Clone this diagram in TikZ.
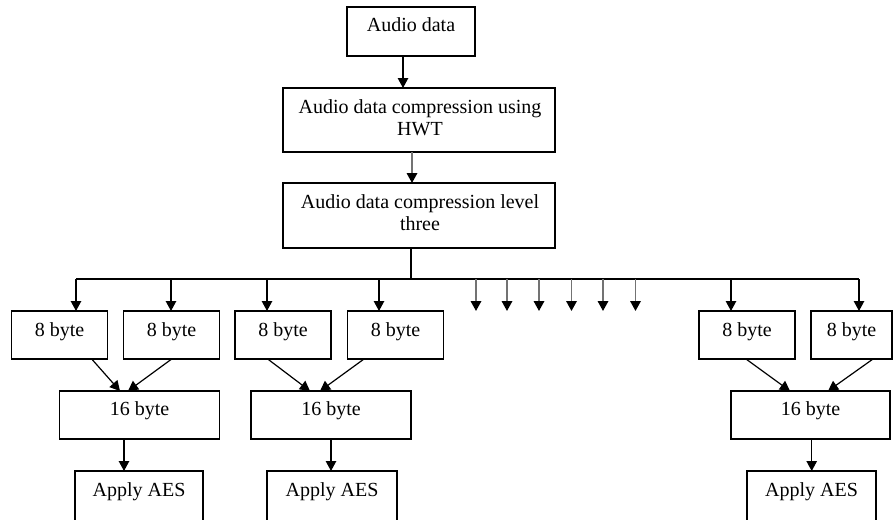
\documentclass[tikz,border=0pt]{standalone}
\usepackage{fontspec}
\setmainfont{Liberation Serif}
\usetikzlibrary{arrows.meta}

% box from its two corners: name, x1, y1, x2, y2
\newcommand\flowbox[5]{%
  \node[box, minimum width={(#4-#2)*1pt}, minimum height={(#5-#3)*1pt}]
    (#1) at ({(#2+#4)/2},{(#3+#5)/2}) {};}

\begin{document}
\begin{tikzpicture}[x=1pt,y=-1pt,
  box/.style={draw, rectangle, line width=1.2pt, inner sep=0pt, outer sep=0pt},
  lbl/.style={font=\fontsize{20}{22}\selectfont, inner sep=0pt, anchor=base},
  arr/.style={line width=1.2pt, -{Triangle[width=10.5pt,length=10pt]}},
  garr/.style={draw=black!55, line width=1.8pt, -{Triangle[width=10.5pt,length=10pt,color=black]}},
  wire/.style={line width=1.2pt}]
\useasboundingbox (0,0) rectangle (896,519);
\clip (0,0) rectangle (896,519);

% top chain
\flowbox{b1}{347}{7}{475}{56}
\node[lbl] (t1) at (411,31.5) {Audio data};
\flowbox{b2}{283}{88}{555}{152}
\node[lbl] (t2a) at (420,113.5) {Audio data compression using};
\node[lbl] (t2b) at (420,135.5) {HWT};
\flowbox{b3}{283}{183}{555}{248}
\node[lbl] (t3a) at (420,208.5) {Audio data compression level};
\node[lbl] (t3b) at (420,230) {three};

\draw[arr] ([xshift=-8pt]b1.south) -- ([xshift=-8pt]b1.south |- b2.north);
\draw[garr] ([xshift=-7pt]b2.south) -- ([xshift=-7pt]b2.south |- b3.north);

% distribution bus
\coordinate (j) at (411,279);
\coordinate (busL) at (76,279);
\coordinate (busR) at (859,279);
\draw[wire] ([xshift=-8pt]b3.south) -- (j);
\draw[wire] (busL) -- (busR);

% 8 byte blocks
\flowbox{e1}{11.5}{311}{107.5}{359}
\flowbox{e2}{123.5}{311}{219.5}{359}
\flowbox{e3}{235}{311}{331}{359}
\flowbox{e4}{347.5}{311}{443.5}{359}
\flowbox{e5}{699}{311}{795}{359}
\flowbox{e6}{811}{311}{892}{359}
\foreach \n in {e1,e2,e3,e4,e5,e6}
  \node[lbl] (l\n) at ([yshift=-1pt]\n.center) {8 byte};

\foreach \n/\x in {e1/76,e2/171,e3/267,e4/379,e5/731,e6/859}{
  \coordinate (d\n) at (\x,279);
  \draw[arr] (d\n) -- (d\n |- \n.north);
}

% remaining blocks, shown by bare arrows
\foreach \i/\x in {1/476,2/507,3/539,4/571.5,5/603,6/635.5}{
  \coordinate (g\i) at (\x,279);
  \coordinate (h\i) at (\x,311);
  \draw[garr] (g\i) -- (h\i);
}

% 16 byte blocks
\flowbox{s1}{59.5}{391}{219.5}{439}
\flowbox{s2}{251}{391}{411}{439}
\flowbox{s3}{731}{391}{890}{439}
\foreach \n in {s1,s2,s3}
  \node[lbl] (l\n) at ([yshift=-0.5pt]\n.center) {16 byte};

\draw[arr] ([xshift=32.2pt]e1.south) -- ([xshift=-19.5pt]s1.north);
\draw[arr] ([xshift=0.2pt]e2.south) -- ([xshift=-11.5pt]s1.north);
\draw[arr] ([xshift=-15.3pt]e3.south) -- ([xshift=-21pt]s2.north);
\draw[arr] ([xshift=-31.5pt]e4.south) -- ([xshift=-11pt]s2.north);
\draw[arr] ([xshift=-1pt]e5.south) -- ([xshift=-20.5pt]s3.north);
\draw[arr] ([xshift=21.5pt]e6.south) -- ([xshift=17.5pt]s3.north);

% encryption blocks
\flowbox{a1}{75}{471}{203}{530}
\flowbox{a2}{267}{471}{397}{530}
\flowbox{a3}{747}{471}{876}{530}
\node[lbl] (la1) at (139,496.5) {Apply AES};
\node[lbl] (la2) at (332,496.5) {Apply AES};
\node[lbl] (la3) at (811.5,496.5) {Apply AES};

\draw[arr] ([xshift=-15.5pt]s1.south) -- ([xshift=-15.5pt]s1.south |- a1.north);
\draw[arr] (s2.south) -- (s2.south |- a2.north);
\draw[arr] ([xshift=1.2pt]s3.south) -- ([xshift=1.2pt]s3.south |- a3.north);
\end{tikzpicture}
\end{document}
